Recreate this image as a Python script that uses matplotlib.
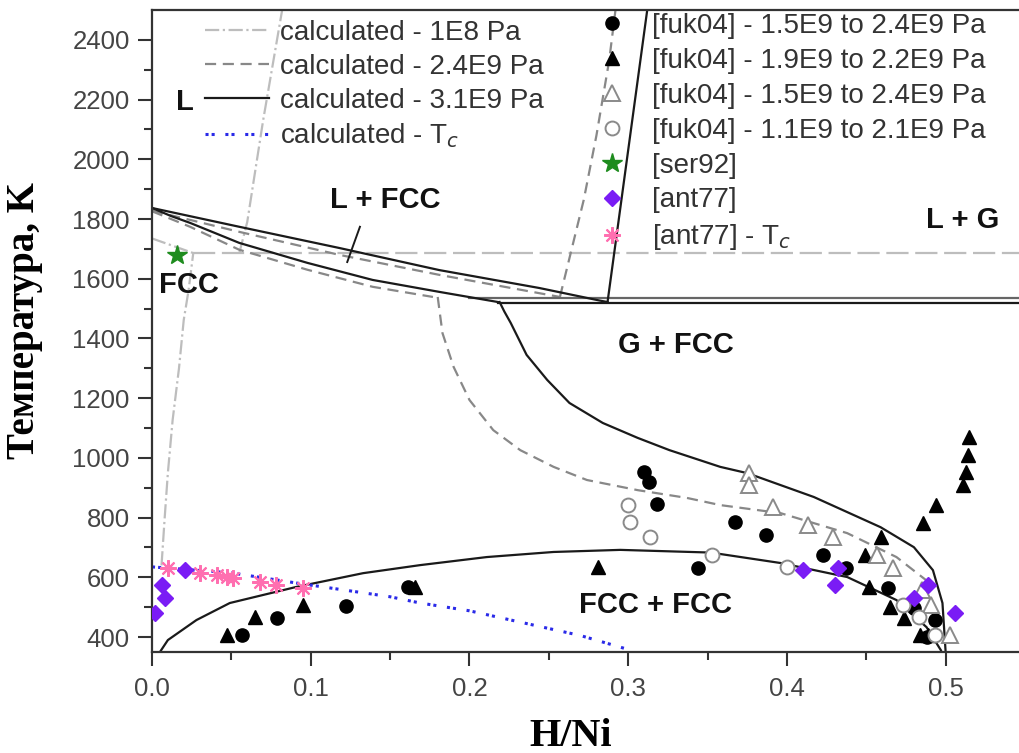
import numpy as np
import matplotlib
matplotlib.use("Agg")
import matplotlib.pyplot as plt

plt.rcParams['font.family'] = ['Liberation Sans', 'DejaVu Sans']

# ---- calculated curves, 3.1E9 Pa (solid) ----
liq31_x = [0.0, 0.055, 0.118, 0.181, 0.244, 0.282, 0.287]
liq31_y = [1837, 1774, 1703, 1629, 1569, 1527, 1522]
sol31_x = [0.0, 0.012, 0.024, 0.055, 0.098, 0.139, 0.181, 0.218]
sol31_y = [1837, 1810, 1787, 1720, 1653, 1596, 1556, 1522]
gas31_x = [0.219, 0.222, 0.226, 0.236, 0.249, 0.263, 0.284, 0.306, 0.326, 0.358, 0.375, 0.417,
           0.459, 0.48, 0.492, 0.498, 0.5]
gas31_y = [1522, 1490, 1452, 1345, 1261, 1184, 1117, 1067, 1026, 970, 949, 869,
           768, 701, 624, 514, 350]
lg31_x = [0.287, 0.312]
lg31_y = [1522, 2500]
eut31_x = [0.218, 0.55]
eut31_y = [1520, 1520]
dome_x = [0.005, 0.01, 0.028, 0.049, 0.091, 0.133, 0.169, 0.211, 0.253, 0.295, 0.352,
          0.396, 0.438, 0.469, 0.488, 0.497]
dome_y = [350, 390, 457, 514, 568, 614, 641, 668, 685, 692, 683,
          648, 601, 524, 433, 356]
tie_x = [0.123, 0.131]
tie_y = [1656, 1774]

# ---- calculated curves, 2.4E9 Pa (dashed) ----
liq24_x = [0.0, 0.055, 0.118, 0.181, 0.257]
liq24_y = [1828, 1757, 1680, 1613, 1539]
sol24_x = [0.0, 0.012, 0.024, 0.055, 0.098, 0.139, 0.177]
sol24_y = [1826, 1800, 1774, 1697, 1630, 1573, 1539]
gas24_x = [0.18, 0.183, 0.19, 0.2, 0.215, 0.232, 0.253, 0.274, 0.306, 0.337, 0.358,
           0.396, 0.438, 0.469, 0.49]
gas24_y = [1539, 1418, 1305, 1194, 1093, 1026, 970, 926, 892, 866, 842,
           815, 748, 668, 581]
lg24_x = [0.257, 0.272, 0.28, 0.288, 0.292]
lg24_y = [1539, 1864, 2080, 2330, 2500]
eut24_x = [0.2, 0.55]
eut24_y = [1537, 1537]

# ---- calculated curves, 1E8 Pa (dash-dot) ----
melt1_x = [0.0, 0.026]
melt1_y = [1735, 1686]
solv1_x = [0.006, 0.008, 0.010, 0.013, 0.017, 0.020, 0.023, 0.026]
solv1_y = [640, 800, 950, 1127, 1300, 1462, 1560, 1686]
lg1_x = [0.055, 0.06, 0.07, 0.082]
lg1_y = [1686, 1790, 2130, 2500]
eut1_x = [0.026, 0.55]
eut1_y = [1686, 1686]

# ---- calculated Tc ----
tc_x = [0.0, 0.05, 0.091, 0.15, 0.169, 0.20, 0.232, 0.27, 0.299]
tc_y = [635, 615, 581, 535, 514, 488, 450, 405, 360]

# ---- experimental points ----
fuk_c_x = [0.057, 0.079, 0.122, 0.161, 0.310, 0.313, 0.318, 0.367, 0.387, 0.344, 0.423,
           0.437, 0.464, 0.480, 0.493, 0.488]
fuk_c_y = [407, 464, 504, 568, 953, 919, 846, 785, 742, 631, 675,
           631, 564, 497, 457, 400]
fuk_t_x = [0.047, 0.065, 0.095, 0.166, 0.281, 0.515, 0.514, 0.513, 0.511, 0.494, 0.486,
           0.459, 0.449, 0.452, 0.465, 0.474, 0.484, 0.489]
fuk_t_y = [407, 467, 507, 568, 635, 1070, 1010, 953, 909, 842, 782,
           735, 675, 568, 500, 464, 407, 407]
fuk_ot_x = [0.376, 0.376, 0.391, 0.413, 0.429, 0.457, 0.467, 0.485, 0.491, 0.503]
fuk_ot_y = [949, 909, 836, 775, 735, 675, 631, 557, 507, 407]
fuk_oc_x = [0.300, 0.301, 0.314, 0.353, 0.400, 0.473, 0.483, 0.493]
fuk_oc_y = [842, 785, 735, 675, 635, 507, 467, 407]
ser_x = [0.016]
ser_y = [1680]
ant_x = [0.002, 0.008, 0.006, 0.021, 0.410, 0.432, 0.430, 0.489, 0.480, 0.506]
ant_y = [480, 531, 574, 624, 624, 631, 574, 574, 531, 480]
anttc_x = [0.010, 0.030, 0.041, 0.047, 0.051, 0.068, 0.078, 0.095]
anttc_y = [631, 614, 608, 601, 598, 584, 574, 564]

fig = plt.figure(figsize=(10.2, 7.53), dpi=100)
ax = fig.add_axes([152 / 1020, 101 / 753, 873 / 1020, 642 / 753])

c_solid = '#1a1a1a'
c_dash = '#888888'
c_dd = '#bdbdbd'
lw = 1.6
dash = (0, (5, 3))

# 1E8 Pa
h1, = ax.plot(solv1_x, solv1_y, color=c_dd, lw=lw, ls='-.', label='calculated - 1E8 Pa')
ax.plot(melt1_x, melt1_y, color=c_dd, lw=lw, ls='-.')
ax.plot(lg1_x, lg1_y, color=c_dd, lw=lw, ls='-.')
ax.plot(eut1_x, eut1_y, color=c_dd, lw=lw, ls=(0, (10, 3)))

# 2.4E9 Pa
h2, = ax.plot(gas24_x, gas24_y, color=c_dash, lw=lw, ls=dash, label='calculated - 2.4E9 Pa')
ax.plot(liq24_x, liq24_y, color=c_dash, lw=lw, ls=dash)
ax.plot(sol24_x, sol24_y, color=c_dash, lw=lw, ls=dash)
ax.plot(lg24_x, lg24_y, color=c_dash, lw=lw, ls=dash)
ax.plot(eut24_x, eut24_y, color='#666666', lw=lw)

# 3.1E9 Pa
h3, = ax.plot(gas31_x, gas31_y, color=c_solid, lw=lw, label='calculated - 3.1E9 Pa')
ax.plot(liq31_x, liq31_y, color=c_solid, lw=lw)
ax.plot(sol31_x, sol31_y, color=c_solid, lw=lw)
ax.plot(lg31_x, lg31_y, color=c_solid, lw=lw)
ax.plot(eut31_x, eut31_y, color=c_solid, lw=lw)
ax.plot(dome_x, dome_y, color=c_solid, lw=lw)
ax.plot(tie_x, tie_y, color=c_solid, lw=1.4)

# Tc
h4, = ax.plot(tc_x, tc_y, color='#2a2ae8', lw=2.2, ls=(0, (1, 1, 1, 3.5)),
              label='calculated - T$_c$')

# points
m1, = ax.plot(fuk_c_x, fuk_c_y, 'o', color='black', ms=9.5, ls='none', zorder=5,
              label='[fuk04] - 1.5E9 to 2.4E9 Pa')
m2, = ax.plot(fuk_t_x, fuk_t_y, '^', color='black', ms=10.5, ls='none', zorder=5,
              label='[fuk04] - 1.9E9 to 2.2E9 Pa')
m3, = ax.plot(fuk_ot_x, fuk_ot_y, '^', mfc='white', mec='#8a8a8a', mew=1.4, ms=11, ls='none',
              zorder=5, label='[fuk04] - 1.5E9 to 2.4E9 Pa')
m4, = ax.plot(fuk_oc_x, fuk_oc_y, 'o', mfc='white', mec='#8a8a8a', mew=1.4, ms=10, ls='none',
              zorder=5, label='[fuk04] - 1.1E9 to 2.1E9 Pa')
m5, = ax.plot(ser_x, ser_y, '*', color='#1e8c1e', ms=15, ls='none', zorder=6, label='[ser92]')
m6, = ax.plot(ant_x, ant_y, 'D', color='#7a1cf5', ms=8.5, ls='none', zorder=6, label='[ant77]')
m7, = ax.plot(anttc_x, anttc_y, marker=(8, 2, 0), color='#ff6fb0', mew=1.5, ms=12, ls='none',
              zorder=6, label='[ant77] - T$_c$')

ax.set_xlim(0, 0.55)
ax.set_ylim(350, 2500)
ax.set_xticks(np.arange(0, 0.51, 0.1))
ax.set_xticks(np.arange(0.05, 0.55, 0.1), minor=True)
ax.set_yticks(np.arange(400, 2401, 200))
ax.set_yticks(np.arange(500, 2500, 200), minor=True)
ax.xaxis.set_major_formatter(matplotlib.ticker.FormatStrFormatter('%.1f'))

for s in ['left', 'bottom', 'top']:
    ax.spines[s].set_linewidth(1.6)
    ax.spines[s].set_color('#333333')
ax.spines['right'].set_visible(False)
ax.tick_params(which='major', direction='out', length=10, width=1.5, labelsize=18.5,
               colors='#333333', pad=6)
ax.tick_params(which='minor', direction='out', length=6, width=1.5, colors='#333333')
ax.tick_params(axis='x', labelcolor='#444444', pad=8)
ax.tick_params(axis='y', labelcolor='#444444')

serif = ['Liberation Serif', 'DejaVu Serif']
fig.text(25 / 1020, 1 - 321 / 753, 'Температура, K', family=serif, fontweight='bold',
         fontsize=28, rotation=90, ha='center', va='center')
fig.text(571 / 1020, 1 - 736 / 753, 'H/Ni', family=serif, fontweight='bold',
         fontsize=29, ha='center', va='center')

# region labels
lab = dict(fontsize=21, fontweight='bold', color='#111111', ha='center', va='center')
ax.text(0.021, 2192, 'L', **lab)
ax.text(0.147, 1864, 'L + FCC', **lab)
ax.text(0.023, 1579, 'FCC', **lab)
ax.text(0.511, 1797, 'L + G', **lab)
ax.text(0.330, 1378, 'G + FCC', **lab)
ax.text(0.317, 507, 'FCC + FCC', **lab)

leg1 = ax.legend(handles=[h1, h2, h3, h4], loc='upper left', frameon=False,
                 bbox_to_anchor=(205 / 1020, 1 - 20 / 753), bbox_transform=fig.transFigure,
                 fontsize=20, handlelength=2.3, handletextpad=0.4, labelspacing=0.28,
                 borderpad=0, borderaxespad=0, labelcolor='#333333')
ax.add_artist(leg1)
ax.legend(handles=[m1, m2, m3, m4, m5, m6, m7], loc='upper left', frameon=False,
          bbox_to_anchor=(598 / 1020, 1 - 13 / 753), bbox_transform=fig.transFigure,
          fontsize=20, handlelength=1.0, handletextpad=0.95, labelspacing=0.32,
          borderpad=0, borderaxespad=0, labelcolor='#333333')

fig.savefig('out.png', dpi=100)
